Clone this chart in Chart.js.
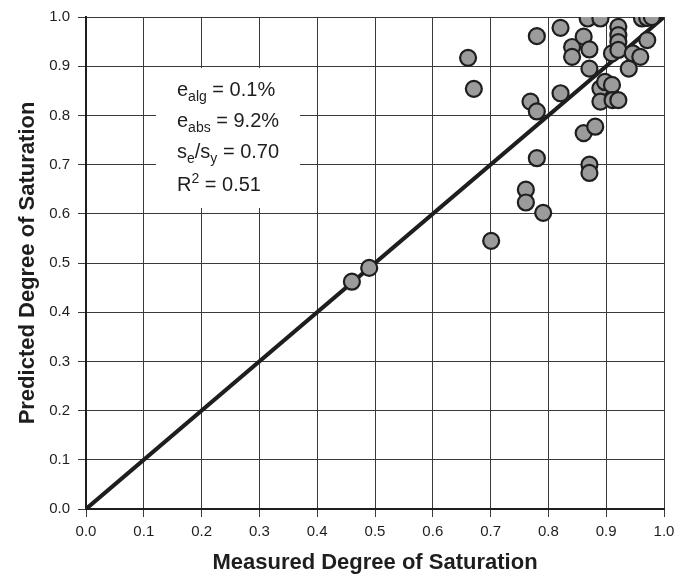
<!DOCTYPE html>
<html>
<head>
<meta charset="utf-8">
<title>Predicted vs Measured Degree of Saturation</title>
<script src="https://cdn.jsdelivr.net/npm/chart.js@4.4.1/dist/chart.umd.min.js"></script>
<style>
    html, body { margin: 0; padding: 0; background: #fff; }
    #wrap { width: 689px; height: 578px; }
</style>
</head>
<body>
<div id="wrap"><canvas id="satChart" width="689" height="578"></canvas></div>
<script>
// Measured vs predicted degree of saturation
const measured = [
    0.460, 0.490, 0.661, 0.671, 0.701, 0.761, 0.761, 0.769, 0.780, 0.780,
    0.780, 0.791, 0.821, 0.821, 0.841, 0.841, 0.861, 0.861, 0.868, 0.871,
    0.871, 0.871, 0.871, 0.881, 0.890, 0.890, 0.890, 0.898, 0.910, 0.910,
    0.911, 0.921, 0.921, 0.921, 0.921, 0.921, 0.939, 0.946, 0.959, 0.971,
    0.962, 0.971, 0.979
];
const predicted = [
    0.462, 0.490, 0.917, 0.854, 0.545, 0.649, 0.623, 0.828, 0.808, 0.713,
    0.961, 0.602, 0.978, 0.845, 0.939, 0.919, 0.960, 0.764, 0.997, 0.934,
    0.895, 0.700, 0.683, 0.777, 0.997, 0.855, 0.828, 0.868, 0.862, 0.926,
    0.831, 0.980, 0.963, 0.949, 0.933, 0.831, 0.895, 0.926, 0.919, 0.953,
    0.997, 0.998, 1.000
];

// 1:1 line
const equalityLine = [0, 1];

// axis ticks (both axes)
const tickValues = [0.0, 0.1, 0.2, 0.3, 0.4, 0.5, 0.6, 0.7, 0.8, 0.9, 1.0];

// fit statistics shown in the box: [main, sub/sup, kind, rest]
const statLines = [
    ['e', 'alg', 'sub', ' = 0.1%'],
    ['e', 'abs', 'sub', ' = 9.2%'],
    ['s', 'e', 'sub', '/s', 'y', 'sub', ' = 0.70'],
    ['R', '2', 'sup', ' = 0.51']
];

const FONT = "'Liberation Sans', Arial, Helvetica, sans-serif";
const INK = '#1e1e1e';

// White box with the fit statistics, drawn over the grid
const statsBox = {
    id: 'statsBox',
    beforeDatasetsDraw(chart) {
        const ctx = chart.ctx;
        ctx.save();
        ctx.fillStyle = '#fff';
        ctx.fillRect(156, 68, 144, 140);
        ctx.fillStyle = INK;
        ctx.textBaseline = 'alphabetic';
        const baselines = [96, 127, 158, 191];
        statLines.forEach((line, i) => {
            let x = 177;
            const y = baselines[i];
            let k = 0;
            while (k < line.length) {
                const part = line[k];
                const next = line[k + 2];
                if (next === 'sub' || next === 'sup') {
                    ctx.font = '20px ' + FONT;
                    ctx.fillText(part, x, y);
                    x += ctx.measureText(part).width;
                    ctx.font = '14px ' + FONT;
                    const dy = next === 'sub' ? 5 : -8;
                    ctx.fillText(line[k + 1], x, y + dy);
                    x += ctx.measureText(line[k + 1]).width;
                    k += 3;
                } else {
                    ctx.font = '20px ' + FONT;
                    ctx.fillText(part, x, y);
                    x += ctx.measureText(part).width;
                    k += 1;
                }
            }
        });
        ctx.restore();
    }
};

const axisCommon = {
    type: 'linear',
    min: 0,
    max: 1,
    afterBuildTicks(scale) {
        scale.ticks = tickValues.map(v => ({ value: v }));
    },
    grid: {
        color: '#3a3a3a',
        lineWidth: 1,
        drawTicks: true,
        tickLength: 8,
        tickColor: '#3a3a3a'
    },
    border: { color: INK, width: 2 },
    ticks: {
        color: INK,
        font: { family: FONT, size: 15 },
        callback: v => Number(v).toFixed(1)
    },
    title: {
        display: true,
        color: INK,
        font: { family: FONT, size: 22, weight: 'bold' }
    }
};

new Chart(document.getElementById('satChart'), {
    type: 'scatter',
    data: {
        datasets: [
            {
                label: 'Data',
                data: measured.map((m, i) => ({ x: m, y: predicted[i] })),
                pointRadius: 8,
                pointHoverRadius: 8,
                pointBackgroundColor: '#9b9b9b',
                pointBorderColor: INK,
                pointBorderWidth: 2.2
            },
            {
                label: '1:1',
                type: 'line',
                data: equalityLine.map(v => ({ x: v, y: v })),
                borderColor: INK,
                borderWidth: 4,
                pointRadius: 0,
                fill: false
            }
        ]
    },
    options: {
        responsive: false,
        animation: false,
        devicePixelRatio: 1,
        layout: { padding: { top: 13, right: 25, left: 0, bottom: 0 } },
        plugins: {
            legend: { display: false },
            tooltip: { enabled: false }
        },
        scales: {
            x: {
                ...axisCommon,
                position: 'bottom',
                ticks: { ...axisCommon.ticks, padding: 6, maxRotation: 0 },
                title: { ...axisCommon.title, text: 'Measured Degree of Saturation', padding: { top: 4, bottom: 2 } },
                afterFit(scale) { scale.height = 69; }
            },
            y: {
                ...axisCommon,
                position: 'left',
                ticks: { ...axisCommon.ticks, padding: 8 },
                title: { ...axisCommon.title, text: 'Predicted Degree of Saturation', padding: { top: 15, bottom: 4 } },
                afterFit(scale) { scale.width = 86; }
            }
        }
    },
    plugins: [statsBox]
});
</script>
</body>
</html>
